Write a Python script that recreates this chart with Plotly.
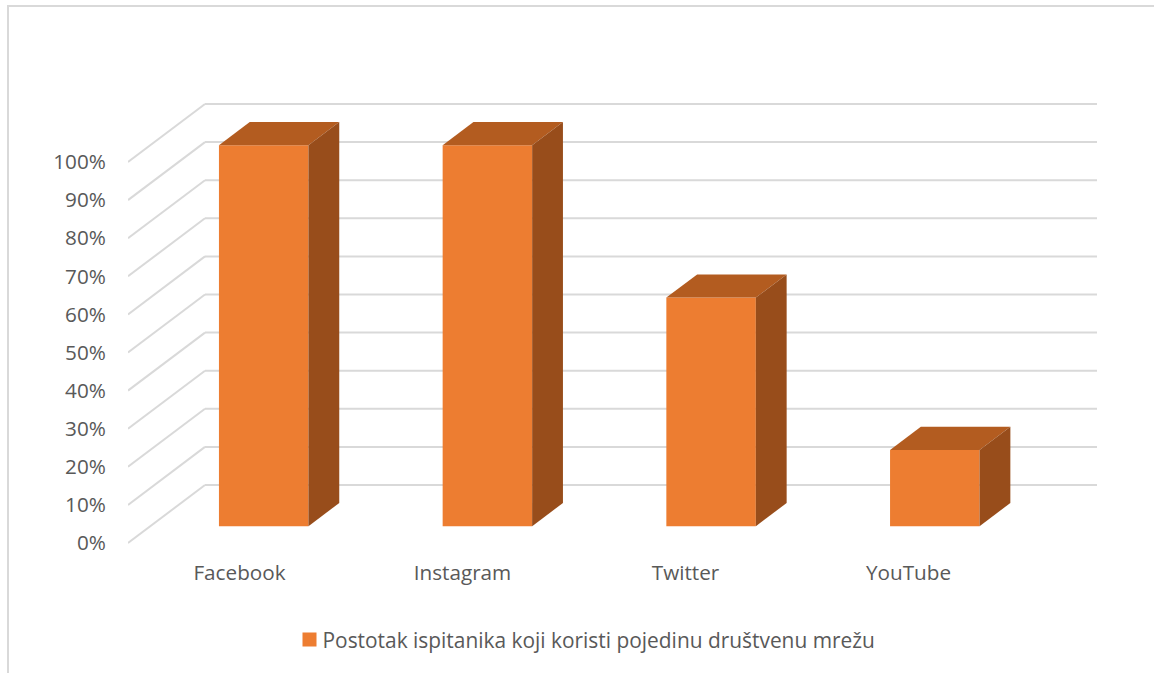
import plotly.graph_objects as go

categories = ["Facebook", "Instagram", "Twitter", "YouTube"]
values = [100, 100, 60, 20]
y_ticks = list(range(0, 101, 10))
y_tick_labels = [f"{v}%" for v in y_ticks]
series_name = "Postotak ispitanika koji koristi pojedinu društvenu mrežu"

W, H = 1154, 673
L, R, T, B = 128, 1097, 90, 553
PX_X = 223.0
PX_Y = 3.81
DX = 77 / PX_X        # wall depth in x units
DY = 58 / PX_Y        # wall depth in % units
BAR_W = 89.5 / PX_X
BAR_STEP = 223.7 / PX_X
BAR_OFF_X, BAR_OFF_Y = 24.2 / PX_X, 0.29 * DY
BAR_DX, BAR_DY = 0.40 * DX, 0.40 * DY
X_MIN, X_MAX = -0.5, 3.5 + DX

GRID = "#d9d9d9"
FRONT, TOP, SIDE = "#ED7D31", "#B35C20", "#984D1B"
TXT = "#595959"
FONT = "Open Sans"
FS = 20.7

fig = go.Figure()

shapes = []
for v in y_ticks:
    shapes.append(dict(type="line", layer="below", xref="x", yref="y",
                       x0=X_MIN, y0=v, x1=X_MIN + DX, y1=v + DY,
                       line=dict(color=GRID, width=2)))
    shapes.append(dict(type="line", layer="below", xref="x", yref="y",
                       x0=X_MIN + DX, y0=v + DY, x1=X_MAX, y1=v + DY,
                       line=dict(color=GRID, width=2)))

bar_x = [i * BAR_STEP + BAR_OFF_X for i in range(len(values))]

for cx, v in zip(bar_x, values):
    x0 = cx - BAR_W / 2
    x1 = x0 + BAR_W
    base = BAR_OFF_Y
    top = base + v
    fig.add_trace(go.Scatter(
        x=[x0, x0 + BAR_DX, x1 + BAR_DX, x1, x0],
        y=[top, top + BAR_DY, top + BAR_DY, top, top],
        mode="lines", line=dict(width=0), fill="toself", fillcolor=TOP,
        showlegend=False, hoverinfo="skip"))
    fig.add_trace(go.Scatter(
        x=[x1, x1 + BAR_DX, x1 + BAR_DX, x1, x1],
        y=[base, base + BAR_DY, top + BAR_DY, top, base],
        mode="lines", line=dict(width=0), fill="toself", fillcolor=SIDE,
        showlegend=False, hoverinfo="skip"))

fig.add_trace(go.Bar(
    x=bar_x, y=values, base=BAR_OFF_Y,
    width=BAR_W, marker=dict(color=FRONT, line=dict(width=0)),
    showlegend=False, name=series_name))

fig.add_trace(go.Scatter(
    x=[None], y=[None], mode="markers", name=series_name,
    marker=dict(symbol="square", size=14, color=FRONT)))

def px(x): return (x - L) / (R - L)
def py(y): return 1 - (y - T) / (B - T)

shapes += [
    dict(type="line", xref="paper", yref="paper", x0=px(8), x1=px(8), y0=py(6), y1=py(H),
         line=dict(color=GRID, width=2)),
    dict(type="line", xref="paper", yref="paper", x0=px(7), x1=px(W), y0=py(6), y1=py(6),
         line=dict(color=GRID, width=2)),
]

fig.update_layout(
    width=W, height=H, autosize=False,
    margin=dict(l=L, r=W - R, t=T, b=H - B, pad=0),
    paper_bgcolor="white", plot_bgcolor="white",
    font=dict(family=FONT, size=FS, color=TXT),
    xaxis=dict(range=[X_MIN, X_MAX], tickmode="array",
               tickvals=list(range(len(categories))), ticktext=categories,
               showgrid=False, zeroline=False, showline=False,
               ticks="outside", ticklen=1, tickcolor="rgba(0,0,0,0)",
               tickfont=dict(family=FONT, size=FS, color=TXT)),
    yaxis=dict(range=[(543 - B) / PX_Y, (543 - T) / PX_Y], tickmode="array",
               tickvals=y_ticks, ticktext=y_tick_labels,
               showgrid=False, zeroline=False, showline=False,
               ticks="outside", ticklen=17, tickcolor="rgba(0,0,0,0)",
               tickfont=dict(family=FONT, size=FS, color=TXT)),
    legend=dict(orientation="h", x=px(581.5), y=py(640), xanchor="center", yanchor="middle",
                font=dict(family=FONT, size=20.9, color=TXT),
                bgcolor="rgba(0,0,0,0)"),
    showlegend=True,
    shapes=shapes,
)

fig.write_html("out.html", config=dict(displayModeBar=False), post_script=(
    "document.body.style.margin='0';"
    "document.querySelectorAll('.legendpoints').forEach(function(g){"
    "g.setAttribute('transform','translate(7,0)');});"))
